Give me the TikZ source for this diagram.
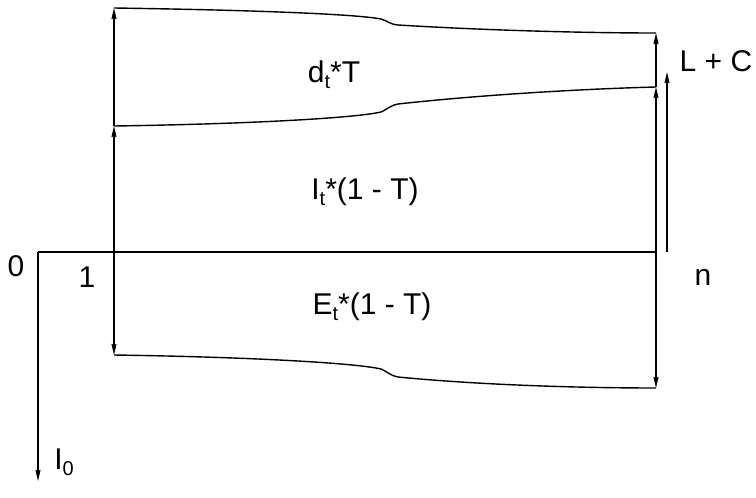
\documentclass[tikz,border=0pt]{standalone}
\usepackage{fontspec}
\setmainfont{Liberation Sans}
\usetikzlibrary{arrows.meta}

\newcommand{\lowsub}[1]{\raisebox{-0.4ex}{\fontsize{20}{21}\selectfont #1}}

\begin{document}
\begin{tikzpicture}[x=1pt, y=-1pt, line width=1.4pt,
  every node/.style={font=\fontsize{30}{34}\selectfont, inner sep=0pt},
  arr/.style={-{Stealth[length=11pt, width=5pt, inset=1pt]}}]
  \useasboundingbox (0,0) rectangle (756,498);

  % Axis points
  \coordinate (zero) at (38,252);
  \coordinate (axisend) at (656,252);
  \coordinate (down) at (38,481);

  % Left side (t = 1)
  \coordinate (ltop) at (114,8);
  \coordinate (lmid) at (114,126);
  \coordinate (laxis) at (114,252);
  \coordinate (lbot) at (114,355);

  % Right side (t = n)
  \coordinate (rtop) at (656,33);
  \coordinate (rmid) at (656,87);
  \coordinate (raxis) at (656,252);
  \coordinate (rbot) at (656,388);
  \coordinate (lcbot) at (667,252);
  \coordinate (lctop) at (667,72);

  % Labels
  \node (lab0) at (16,266) {0};
  \node (lab1) at (87,277) {1};
  \node (labn) at (703,277) {n};
  \node (labI0) at (64,462) {I\lowsub{0}};
  \node (lc) at (716,61) {L + C};
  \node (dT) at (334,75) {d\lowsub{t}*T};
  \node (IT) at (365,192) {I\lowsub{t}*(1 - T)};
  \node (ET) at (372,307) {E\lowsub{t}*(1 - T)};

  % Axis
  \draw (zero) -- (axisend);
  \draw[arr] (zero) -- (down);

  % Curves
  \draw (ltop) .. controls (250,10) and (355,14) .. (381,19)
    .. controls (388,21) and (389,24) .. (398,25)
    .. controls (480,30) and (580,33) .. (rtop);
  \draw (lmid) .. controls (250,124) and (355,118) .. (381,112)
    .. controls (388,109) and (389,106) .. (398,104)
    .. controls (480,95) and (580,89) .. (rmid);
  \draw (lbot) .. controls (250,357) and (355,363) .. (381,369)
    .. controls (388,372) and (389,375) .. (398,377)
    .. controls (480,385) and (580,388) .. (rbot);

  % Left vertical
  \draw[arr] (lmid) -- (ltop);
  \draw[arr] (laxis) -- (lmid);
  \draw[arr] (laxis) -- (lbot);

  % Right vertical
  \draw[arr] (rmid) -- (rtop);
  \draw[arr] (raxis) -- (rmid);
  \draw[arr] (raxis) -- (rbot);
  \draw[arr] (lcbot) -- (lctop);
\end{tikzpicture}
\end{document}
